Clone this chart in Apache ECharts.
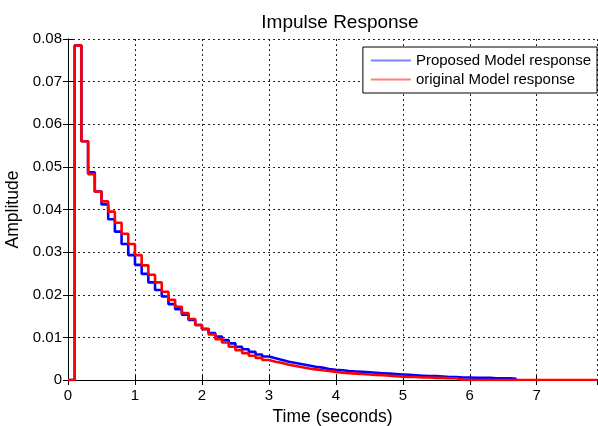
<!DOCTYPE html>
<html>
<head>
<meta charset="utf-8">
<script src="https://cdn.jsdelivr.net/npm/echarts@6/dist/echarts.min.js"></script>
<style>
  html, body { margin: 0; padding: 0; background: #fff; }
  #chart { width: 598px; height: 426px; }
</style>
</head>
<body>
<div id="chart"></div>
<script>
// sample time of both discrete responses (s)
var dt = 0.1

// impulse response values, one per sample
var proposedValues = [
  0, 0.0785, 0.0560, 0.0487, 0.0442, 0.0412, 0.0377, 0.0348, 0.0319, 0.0293,
  0.0270, 0.0249, 0.0229, 0.0211, 0.0196, 0.0178, 0.0166, 0.0153, 0.0141, 0.0129,
  0.0120, 0.0110, 0.0102, 0.0094, 0.0086, 0.0078, 0.0072, 0.0066, 0.0060, 0.0055,
  0.0051, 0.0047, 0.0043, 0.0040, 0.0037, 0.0034, 0.0031, 0.0029, 0.0026, 0.0024,
  0.0023, 0.0021, 0.0020, 0.0019, 0.0018, 0.0017, 0.0016, 0.0015, 0.0014, 0.0013,
  0.0012, 0.0011, 0.0010, 0.0009, 0.0009, 0.0008, 0.0007, 0.0007, 0.0006, 0.0006,
  0.0005, 0.0005, 0.0005, 0.0004, 0.0004, 0.0004, 0.0003, 0.0003
]
var originalValues = [
  0, 0.0785, 0.0560, 0.0483, 0.0442, 0.0419, 0.0395, 0.0369, 0.0343, 0.0319,
  0.0293, 0.0269, 0.0247, 0.0229, 0.0207, 0.0188, 0.0172, 0.0157, 0.0143, 0.0129,
  0.0119, 0.0107, 0.0096, 0.0088, 0.0078, 0.0070, 0.0063, 0.0057, 0.0052, 0.0047,
  0.0043, 0.0040, 0.0036, 0.0033, 0.0030, 0.0027, 0.0025, 0.0023, 0.0021, 0.0019,
  0.0017, 0.0016, 0.0015, 0.0014, 0.0013, 0.0012, 0.0011, 0.0010, 0.0009, 0.0008,
  0.0007, 0.0007, 0.0006, 0.0006, 0.0005, 0.0005, 0.0004, 0.0004, 0, 0,
  0, 0, 0, 0, 0, 0, 0, 0, 0, 0,
  0, 0, 0, 0, 0, 0, 0, 0, 0, 0
]

var xTicks = [0, 1, 2, 3, 4, 5, 6, 7]
var yTicks = [0, 0.01, 0.02, 0.03, 0.04, 0.05, 0.06, 0.07, 0.08]
var xMax = 7.9

// [t, value] pairs for a stairs plot
function toStairs(vals) {
  return vals.map(function (v, k) { return [+(k * dt).toFixed(2), v] })
}

var chart = echarts.init(document.getElementById('chart'))
var font = 'Liberation Sans, Arial, sans-serif'
var gridLine = { show: true, lineStyle: { color: '#222', width: 1, type: [2, 3] } }
// thin line used as legend marker
var legendLine = 'path://M0,0 L40,0 L40,2 L0,2 Z'

var option = {
  animation: false,
  backgroundColor: '#fff',
  title: {
    text: 'Impulse Response',
    left: 335, top: 8, textAlign: 'center',
    textStyle: { fontFamily: font, fontSize: 19, fontWeight: 'normal', color: '#000' }
  },
  grid: { left: 68, right: 1, top: 39, bottom: 46, outerBoundsMode: 'none', containLabel: false },
  legend: {
    orient: 'vertical',
    right: 1, top: 47,
    padding: [6, 6, 6, 8],
    itemGap: 4,
    itemWidth: 40, itemHeight: 14,
    backgroundColor: '#fff',
    borderColor: '#000', borderWidth: 1, borderRadius: 0,
    textStyle: { fontFamily: font, fontSize: 15, color: '#000' },
    data: [
      { name: 'Proposed Model response', icon: legendLine, itemStyle: { color: '#8080ff' } },
      { name: 'original Model response', icon: legendLine, itemStyle: { color: '#ff8080' } }
    ]
  },
  xAxis: [
    {
      type: 'value', min: 0, max: xMax, interval: 1,
      name: 'Time (seconds)', nameLocation: 'middle', nameGap: 20,
      nameTextStyle: { fontFamily: font, fontSize: 17.5, color: '#000' },
      axisLine: { lineStyle: { color: '#000' } },
      axisTick: { inside: true, length: 5, lineStyle: { color: '#000' } },
      axisLabel: {
        fontFamily: font, fontSize: 15, color: '#000', margin: 8,
        showMaxLabel: false,
        formatter: function (v) { return xTicks.indexOf(v) >= 0 ? String(v) : '' }
      },
      splitLine: gridLine
    },
    {
      type: 'value', min: 0, max: xMax, interval: 1, position: 'top',
      axisLine: { lineStyle: { color: '#000' } },
      axisTick: { inside: true, length: 5, lineStyle: { color: '#000' } },
      axisLabel: { show: false },
      splitLine: { show: false }
    }
  ],
  yAxis: [
    {
      type: 'value', min: 0, max: 0.08, interval: 0.01,
      name: 'Amplitude', nameLocation: 'middle', nameGap: 35, nameRotate: 90,
      nameTextStyle: { fontFamily: font, fontSize: 17.5, color: '#000' },
      axisLine: { show: true, lineStyle: { color: '#000' } },
      axisTick: { show: true, inside: true, length: 5, lineStyle: { color: '#000' } },
      axisLabel: {
        fontFamily: font, fontSize: 15, color: '#000', margin: 6,
        formatter: function (v) {
          var i = yTicks.findIndex(function (t) { return Math.abs(t - v) < 1e-9 })
          return i >= 0 ? String(yTicks[i]) : ''
        }
      },
      splitLine: gridLine
    },
    {
      type: 'value', min: 0, max: 0.08, interval: 0.01, position: 'right',
      axisLine: { show: true, lineStyle: { color: '#000' } },
      axisTick: { show: true, inside: true, length: 5, lineStyle: { color: '#000' } },
      axisLabel: { show: false },
      splitLine: { show: false }
    }
  ],
  series: [
    {
      name: 'Proposed Model response',
      type: 'line', step: 'end', showSymbol: false, symbol: 'none',
      data: toStairs(proposedValues),
      lineStyle: { color: '#0000ff', width: 2.6 },
      itemStyle: { color: '#0000ff' },
      z: 2
    },
    {
      name: 'original Model response',
      type: 'line', step: 'end', showSymbol: false, symbol: 'none',
      data: toStairs(originalValues),
      lineStyle: { color: '#ff0000', width: 2.6 },
      itemStyle: { color: '#ff0000' },
      z: 3
    }
  ]
}
chart.setOption(option)
</script>
</body>
</html>
